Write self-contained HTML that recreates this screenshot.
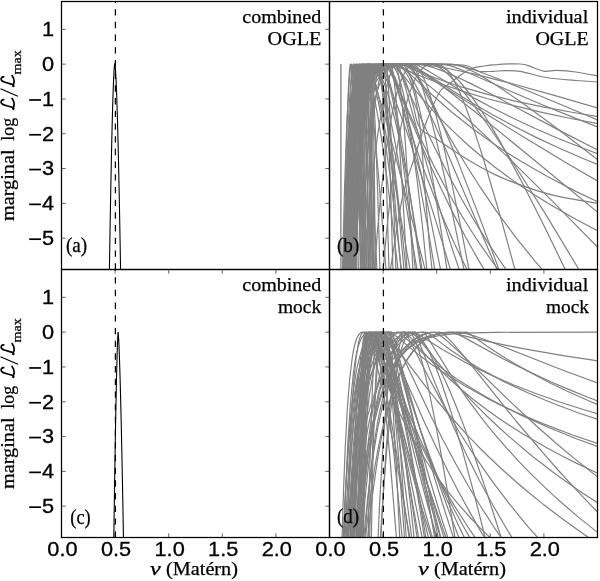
<!DOCTYPE html><html><head><meta charset="utf-8"><style>html,body{margin:0;padding:0;background:#fff;overflow:hidden}svg{display:block;will-change:transform}</style></head><body><svg width="600" height="581" viewBox="0 0 600 581">
<rect width="600" height="581" fill="#fff"/>
<defs>
<clipPath id="c00"><rect x="61.5" y="1.5" width="268.0" height="268.0"/></clipPath>
<clipPath id="c01"><rect x="329.5" y="1.5" width="268.0" height="268.0"/></clipPath>
<clipPath id="c10"><rect x="61.5" y="269.5" width="268.0" height="268.0"/></clipPath>
<clipPath id="c11"><rect x="329.5" y="269.5" width="268.0" height="268.0"/></clipPath>
</defs>
<g clip-path="url(#c01)" fill="none" stroke="#808080" stroke-width="1.2" stroke-linejoin="round">
<path d="M340.9,64.1 V271.5" stroke="#959595" stroke-width="1.6"/>
<path d="M342.3,282.0L344.3,195.5L346.7,126.5L349.1,81.9L350.4,69.3L351.4,64.2L351.7,64.4L352.2,67.2L353.1,77.4L354.9,119.5L356.8,190.5L358.8,290.3"/>
<path d="M346.3,285.0L349.4,191.3L351.1,153.2L352.8,125.3L354.9,98.8L356.8,81.5L358.8,69.7L359.9,66.1L361.1,64.3L361.4,64.8L361.8,72.8L362.6,108.6L364.7,286.6"/>
<path d="M344.3,280.4L346.3,223.9L348.2,180.8L350.6,141.5L353.1,113.4L355.8,92.0L357.4,82.9L359.2,75.8L361.1,70.4L363.0,66.8L365.1,64.8L367.4,64.2L367.8,66.3L368.3,77.3L369.3,126.9L371.3,307.8"/>
<path d="M347.3,287.6L349.6,184.3L350.9,145.3L352.2,114.5L353.6,91.5L355.2,75.9L356.8,67.0L357.8,64.7L358.5,64.2L358.8,64.5L359.6,78.2L360.7,134.8L362.6,307.8"/>
<path d="M344.0,285.0L345.7,224.7L347.3,179.7L349.1,142.7L351.1,113.3L353.4,91.1L354.5,82.7L356.1,74.5L357.4,69.8L358.8,66.6L360.7,64.5L361.8,64.2L362.2,64.5L363.0,79.6L363.9,123.4L365.6,307.8"/>
<path d="M343.0,280.6L345.9,194.6L347.5,157.8L349.4,125.8L351.4,98.9L353.4,80.5L355.5,67.8L356.4,64.7L356.8,64.2L357.1,64.2L357.8,65.8L358.1,67.8L358.8,75.6L360.3,109.9L361.8,176.0L363.5,281.2"/>
<path d="M343.5,285.6L345.3,228.8L347.3,180.8L349.6,141.6L351.9,113.5L354.5,92.0L356.1,82.9L357.8,75.6L359.2,71.2L361.1,67.2L363.0,64.9L365.1,64.2L365.6,65.3L366.0,74.6L366.9,117.6L368.8,290.9"/>
<path d="M345.9,281.9L348.7,183.9L350.1,148.5L351.7,119.3L353.6,93.1L355.5,77.3L357.4,67.7L358.5,65.2L359.6,64.2L359.9,64.5L360.3,68.2L360.7,77.1L361.4,114.4L363.0,282.1"/>
<path d="M343.3,281.2L345.3,223.6L347.5,175.7L350.1,137.0L352.8,109.6L355.8,89.2L357.4,81.4L359.6,74.1L361.4,69.7L363.9,66.2L366.0,64.7L367.4,64.3L368.8,64.3L369.3,70.3L369.8,86.0L370.3,111.6L372.3,307.8"/>
<path d="M342.6,284.4L345.7,193.7L347.3,158.1L349.1,127.3L351.1,101.8L353.4,82.0L355.5,70.0L356.8,65.8L357.8,64.2L358.1,64.8L358.5,70.6L359.6,119.7L361.4,298.5"/>
<path d="M345.1,282.8L347.3,230.8L349.6,189.0L352.2,152.5L355.2,121.6L358.5,96.7L361.8,79.7L363.9,72.7L365.6,68.4L367.4,65.5L368.3,64.6L369.3,64.2L369.8,64.8L370.3,71.6L371.3,116.3L372.8,287.3"/>
<path d="M344.9,285.3L346.5,227.2L348.0,184.3L349.9,144.1L351.9,112.9L354.2,90.0L355.5,81.6L356.8,74.9L358.1,70.0L359.6,66.7L361.1,64.8L361.8,64.4L363.0,64.1L363.5,67.4L363.9,78.4L364.7,121.7L366.5,288.5"/>
<path d="M347.1,281.0L349.1,185.4L351.1,121.8L353.4,80.0L354.5,68.3L355.2,65.1L355.5,64.3L355.8,64.2L356.4,68.9L357.1,82.2L358.1,121.0L359.2,184.2L360.7,307.8"/>
<path d="M346.7,287.9L348.7,194.7L350.6,128.7L352.8,82.1L353.9,68.1L354.5,64.5L354.9,64.2L355.5,65.0L356.1,67.5L357.4,78.2L358.8,97.6L359.9,118.3L362.6,189.0L365.6,293.0"/>
<path d="M345.9,282.8L348.2,231.7L350.6,190.5L353.4,154.4L356.4,123.6L359.9,98.6L363.5,81.3L365.6,74.0L367.4,69.5L369.8,65.6L370.8,64.7L371.8,64.2L372.3,65.2L372.8,76.1L373.3,98.5L374.4,176.6L375.5,298.0"/>
<path d="M345.5,283.3L347.1,227.4L348.9,180.5L350.9,142.2L353.1,112.1L355.5,89.9L356.8,81.5L358.1,75.0L359.6,70.1L361.1,66.7L362.6,64.8L363.5,64.4L364.7,64.2L365.1,67.6L365.6,78.2L366.5,124.6L368.3,307.8"/>
<path d="M343.8,283.1L345.9,194.5L348.2,126.0L349.4,102.2L350.6,83.4L351.9,70.3L352.8,65.6L353.4,64.2L353.6,64.8L353.9,68.7L354.2,76.3L355.2,122.7L356.8,283.1"/>
<path d="M344.7,281.1L346.7,226.8L348.7,184.5L351.1,144.8L353.6,115.8L356.4,93.2L358.1,83.4L359.6,77.0L361.4,70.8L363.0,67.2L365.1,64.7L366.5,64.2L366.9,64.4L367.4,68.4L367.8,79.9L368.8,135.1L370.3,307.8"/>
<path d="M342.2,280.8L344.5,235.3L347.3,193.6L350.4,158.5L353.6,129.7L357.4,104.7L359.6,93.8L361.8,84.2L364.3,75.9L366.5,70.2L368.8,66.0L369.8,64.8L370.8,64.2L371.3,67.7L372.3,107.3L373.3,189.4L374.4,307.8"/>
<path d="M343.6,282.3L345.3,191.3L346.9,127.1L348.7,81.8L349.6,68.1L350.4,64.2L351.1,65.5L351.7,67.8L352.8,76.5L354.2,95.3L355.5,117.4L358.5,190.7L361.4,285.0"/>
<path d="M345.9,287.5L347.5,195.0L349.4,124.8L351.4,79.3L352.5,67.2L353.1,64.4L353.4,64.2L354.2,68.1L355.5,80.3L358.1,124.2L361.1,190.8L364.7,290.0"/>
<path d="M348.0,288.8L349.6,188.7L351.4,120.1L352.5,94.0L353.6,76.6L354.9,67.1L355.5,64.9L356.1,64.2L356.4,64.2L356.8,64.8L357.1,65.9L358.5,76.0L359.6,89.1L361.1,114.0L363.9,177.9L367.4,281.9"/>
<path d="M348.4,280.0L350.9,179.1L353.4,115.4L354.9,91.0L356.1,77.1L357.8,66.8L358.5,64.9L358.8,64.4L359.6,64.2L360.3,65.3L361.1,68.3L362.2,77.1L363.9,98.4L365.1,122.5L367.8,194.0L370.8,299.5"/>
<path d="M346.3,282.4L347.8,228.0L349.4,182.0L351.1,144.2L353.1,114.2L355.2,91.7L357.4,76.3L358.5,71.7L359.9,67.4L361.4,65.0L363.0,64.2L363.5,64.3L363.9,65.5L365.1,74.9L366.5,91.5L367.8,114.6L370.8,179.0L374.4,282.3"/>
<path d="M344.7,285.8L347.8,191.3L349.6,150.9L351.4,121.4L353.4,97.7L355.5,79.9L356.8,72.5L357.8,68.4L359.2,65.0L360.3,64.1L361.4,65.0L362.2,66.6L363.5,71.2L364.3,75.8L366.5,93.2L368.3,113.7L370.8,148.2L372.8,183.4L377.8,288.4"/>
<path d="M342.6,284.9L344.7,228.7L346.9,184.7L349.6,144.7L352.5,115.3L355.8,92.7L357.8,83.2L359.6,76.8L361.4,71.8L363.9,67.4L366.5,64.9L367.8,64.3L369.3,64.1L369.8,64.4L370.3,65.5L370.8,67.4L372.3,79.2L373.9,100.9L375.0,121.4L377.8,195.1L380.9,302.7"/>
<path d="M346.9,282.3L348.7,228.1L350.4,186.9L352.5,147.0L354.5,118.3L356.8,95.6L359.2,78.9L360.7,72.1L361.8,68.4L363.5,65.2L364.7,64.2L365.1,64.2L365.6,64.8L366.5,67.4L368.3,76.7L370.8,94.6L373.3,118.3L379.0,181.1L386.8,280.0"/>
<path d="M346.3,284.7L348.7,229.8L351.4,183.1L354.5,144.5L358.1,113.9L360.3,100.4L362.2,90.9L364.3,82.9L366.9,75.2L369.3,70.5L372.3,66.6L375.0,64.8L376.7,64.3L378.4,64.2L379.0,65.0L379.6,66.9L380.2,70.2L381.5,81.1L382.8,98.4L384.1,122.6L386.8,193.2L389.7,295.4"/>
<path d="M343.8,283.1L346.7,231.9L350.1,186.6L353.9,150.1L358.1,121.3L360.7,108.0L363.0,97.8L366.0,87.4L368.8,79.9L372.3,72.8L375.5,68.2L377.2,66.5L379.0,65.2L380.9,64.4L382.1,64.2L382.8,64.4L383.4,65.9L384.7,73.4L386.1,88.1L387.5,110.4L390.4,180.4L393.4,286.4"/>
<path d="M362.2,287.6L364.7,235.1L367.4,189.2L370.3,150.1L372.8,122.9L376.1,96.7L379.0,80.6L380.9,73.4L382.8,68.2L384.7,65.0L386.1,64.2L386.8,66.0L388.2,82.3L390.4,122.6L393.4,196.4L396.6,288.1"/>
<path d="M349.4,285.9L351.7,186.8L353.1,145.4L354.5,113.1L356.1,89.5L357.8,74.1L358.5,70.1L359.6,66.1L360.3,64.7L361.4,64.2L363.5,64.9L365.1,66.9L367.4,71.3L369.3,76.6L373.3,92.4L377.8,115.8L382.8,147.3L387.5,181.9L393.4,229.8L400.0,287.1"/>
<path d="M354.2,286.4L356.4,240.5L358.8,198.5L361.4,160.8L364.3,127.8L366.9,103.7L369.8,84.0L371.3,76.1L372.8,69.7L374.4,65.4L375.0,64.5L375.5,64.2L376.7,65.2L377.8,67.8L379.0,71.7L380.9,79.8L383.4,95.0L386.8,120.4L390.4,152.6L394.2,191.6L402.6,288.9"/>
<path d="M344.3,282.0L346.9,225.0L349.6,180.1L352.8,142.6L356.1,114.7L358.1,102.1L360.3,91.3L362.6,82.4L364.7,76.3L367.4,70.6L369.8,67.2L372.3,65.1L373.9,64.4L375.5,64.2L376.7,64.6L378.4,67.5L379.6,70.8L381.5,77.9L384.7,94.9L388.2,118.3L391.9,148.0L395.8,183.9L400.0,225.9L405.3,284.1"/>
<path d="M350.1,280.9L353.6,237.5L357.8,197.2L362.2,163.0L367.4,132.0L372.8,107.0L376.1,94.9L379.0,85.8L382.1,77.8L385.4,71.0L388.2,66.7L389.7,65.1L391.1,64.2L391.9,66.0L392.7,69.8L394.2,81.4L395.8,97.3L398.3,127.5L402.6,192.3L408.1,290.4"/>
<path d="M345.7,283.2L347.8,234.3L350.1,190.7L352.8,152.7L355.5,123.4L358.5,99.3L361.8,80.7L363.5,74.3L365.1,69.4L366.9,65.9L367.8,64.7L368.8,64.2L369.8,64.9L370.8,66.8L373.3,74.4L376.7,87.6L380.9,107.4L389.7,154.5L412.0,280.9"/>
<path d="M362.6,284.9L366.0,241.0L369.8,200.3L373.9,163.1L377.8,133.8L382.8,104.5L387.5,83.4L389.7,76.0L391.9,69.8L394.2,65.3L395.0,64.4L395.8,64.4L396.6,65.9L397.4,68.7L400.0,83.9L401.7,99.2L404.4,129.6L409.1,199.0L414.1,290.6"/>
<path d="M343.0,280.2L345.3,228.1L348.0,182.9L351.1,144.7L354.5,115.7L356.4,103.6L358.5,93.0L360.7,84.0L363.0,76.6L365.6,70.9L367.8,67.4L369.3,65.9L370.8,64.8L373.3,64.2L375.0,65.3L376.7,68.0L378.4,72.0L380.2,77.2L384.7,93.6L389.7,115.4L395.0,142.4L401.7,179.2L419.4,283.9"/>
<path d="M359.9,285.8L362.2,236.5L364.7,192.7L367.4,154.5L370.3,122.2L373.3,96.2L376.1,79.8L377.8,72.5L379.0,68.7L380.9,65.0L382.1,64.2L383.4,65.1L385.4,68.6L388.9,78.8L392.7,93.8L397.4,117.4L402.6,146.8L408.1,181.4L422.7,281.8"/>
<path d="M348.7,283.3L351.9,188.2L353.6,152.5L355.5,122.3L357.4,97.7L359.6,79.3L360.7,72.6L361.8,67.7L363.0,64.7L363.9,64.2L365.6,65.1L367.4,67.3L369.3,70.6L371.3,74.8L376.1,87.7L381.5,104.9L392.7,145.3L428.6,282.9"/>
<path d="M348.4,287.0L349.9,226.1L351.7,170.9L353.4,135.2L355.5,105.1L357.8,85.2L358.8,79.3L360.3,73.3L361.8,69.1L363.5,66.5L365.6,64.8L367.8,64.2L371.3,64.2L372.8,64.7L375.0,67.0L376.7,70.1L379.0,76.6L380.9,83.4L384.7,102.0L389.7,132.4L395.0,172.0L400.8,221.1L407.2,279.9"/>
<path d="M346.1,282.8L347.3,224.5L348.9,171.3L350.6,131.8L352.8,100.6L354.9,83.1L356.1,76.3L357.4,71.4L358.8,68.1L360.7,65.7L362.6,64.5L365.6,64.2L369.8,64.3L372.8,65.4L376.1,68.2L379.0,72.2L382.1,78.2L385.4,86.5L388.9,97.2L391.9,107.7L395.8,123.4L399.1,138.1L407.2,178.9L415.1,225.0L423.9,281.6"/>
<path d="M343.6,285.7L346.1,217.7L348.9,165.4L350.4,146.0L352.2,126.7L354.2,110.7L356.4,97.7L358.8,87.5L361.4,79.5L364.3,73.7L367.4,69.5L370.8,66.8L375.0,65.1L379.6,64.3L387.5,64.2L390.4,64.5L392.7,65.8L395.0,68.5L397.4,73.3L400.0,80.3L402.6,89.8L407.2,111.8L412.0,141.9L417.2,180.7L422.7,228.7L428.6,286.7"/>
<path d="M349.4,287.3L350.6,228.8L352.2,174.4L353.9,134.6L356.1,102.8L358.5,83.1L359.6,77.4L361.1,72.0L362.6,68.4L364.7,65.8L366.9,64.6L369.8,64.2L373.9,64.2L376.1,64.9L378.4,66.7L380.9,69.6L384.1,74.9L387.5,81.7L395.8,101.6L407.2,132.9L420.5,172.7L436.1,221.9L454.3,282.1"/>
<path d="M351.9,284.9L353.6,221.0L355.5,171.2L357.8,128.3L360.3,99.0L361.4,90.0L363.0,80.6L364.7,73.9L366.5,69.4L368.3,66.5L370.3,65.0L372.8,64.3L376.7,64.2L379.0,64.6L381.5,66.2L384.1,70.0L386.1,74.5L388.2,80.7L390.4,88.8L395.0,110.7L400.0,140.9L405.3,180.0L411.0,228.5L417.2,287.4"/>
<path d="M347.8,282.7L350.1,175.4L351.4,138.3L353.1,105.8L354.5,87.4L356.4,73.6L357.4,69.5L358.8,66.1L360.3,64.6L361.8,64.2L364.3,64.4L366.5,65.9L368.8,69.1L370.8,73.3L372.8,79.1L375.0,86.7L379.6,108.1L384.7,138.3L390.4,178.1L396.6,228.0L402.6,280.5"/>
<path d="M350.6,287.2L352.5,221.5L354.5,170.7L356.8,132.7L359.6,102.3L361.1,91.4L362.6,82.9L364.3,76.4L366.0,71.7L367.8,68.4L370.3,65.9L372.8,64.7L376.7,64.2L381.5,64.3L384.1,65.1L386.8,67.3L389.7,71.3L392.7,77.2L395.8,85.1L399.1,95.0L402.6,107.0L410.1,137.3L418.3,176.5L427.4,225.4L437.4,285.0"/>
<path d="M345.1,282.3L347.1,218.6L349.6,165.0L352.5,126.0L353.9,112.4L355.8,99.1L357.4,90.1L359.6,81.6L361.8,75.3L364.3,70.8L366.9,67.7L370.3,65.6L374.4,64.5L380.2,64.2L384.1,64.2L386.8,65.1L389.7,67.7L391.9,70.9L394.2,75.4L397.4,83.1L400.8,92.9L404.4,104.8L412.0,134.1L421.6,176.0L431.0,221.2L442.8,281.2"/>
<path d="M349.9,281.6L352.8,218.5L354.5,190.0L356.4,165.2L358.5,144.0L360.7,125.9L363.0,110.9L365.6,98.5L368.3,88.6L371.3,80.8L374.4,74.8L376.1,72.5L378.4,70.0L380.2,68.4L382.8,66.9L387.5,65.1L393.4,64.3L401.7,64.2L403.5,64.8L404.4,65.6L406.2,67.8L408.1,71.0L410.1,75.4L412.0,80.8L415.1,91.0L420.5,113.3L426.2,141.8L433.5,183.5L441.4,232.7L449.9,288.8"/>
<path d="M354.2,287.0L356.4,225.7L359.2,171.8L362.2,132.3L363.9,117.2L366.0,101.9L367.8,92.2L370.3,82.8L372.3,77.1L375.0,71.9L377.8,68.4L381.5,66.0L385.4,64.7L391.1,64.2L397.4,64.1L398.3,64.8L400.0,69.3L405.3,87.1L423.9,154.4L436.1,196.8L449.9,241.6L463.8,283.6"/>
<path d="M343.5,281.6L345.1,241.7L346.7,210.7L348.4,183.6L350.4,160.1L352.5,139.9L354.9,122.9L357.4,108.6L360.7,95.6L363.9,86.5L367.4,79.4L369.3,76.5L371.8,73.4L373.9,71.3L376.7,69.2L382.1,66.6L388.2,65.1L396.6,64.3L409.1,64.2L411.0,64.7L412.0,65.4L414.1,67.7L416.2,71.2L418.3,75.8L422.7,88.2L428.6,108.7L436.1,139.1L444.1,174.9L454.3,222.6L467.1,284.8"/>
<path d="M352.5,286.1L354.5,226.7L357.1,173.6L359.9,134.1L361.4,118.6L363.5,102.9L365.1,92.9L367.4,83.1L369.3,77.2L371.8,71.7L374.4,68.1L377.2,66.0L380.9,64.6L385.4,64.2L388.9,64.1L389.7,64.9L405.3,115.3L414.1,142.1L425.0,172.8L436.1,201.3L445.6,223.8L454.3,243.3L463.8,263.1L474.0,283.0"/>
<path d="M347.3,285.9L350.1,206.2L351.7,175.8L353.4,150.7L355.2,130.2L357.4,111.2L359.6,98.6L362.2,87.4L364.7,80.2L367.8,74.2L371.3,70.1L373.3,68.4L375.5,67.1L380.2,65.4L386.1,64.6L394.2,64.2L411.0,64.1L414.1,64.8L417.2,67.2L420.5,71.7L422.7,75.8L425.0,80.9L428.6,90.3L434.8,110.7L442.8,142.2L451.3,180.8L460.6,226.0L472.2,286.6"/>
<path d="M348.2,282.4L350.1,212.3L352.2,160.8L354.5,124.3L355.8,110.6L357.4,97.0L358.8,88.5L360.7,80.3L362.6,74.5L365.1,69.7L367.8,66.9L370.8,65.3L374.4,64.5L380.2,64.2L386.8,64.3L389.7,69.0L395.8,82.8L413.1,125.1L422.7,148.0L432.3,169.6L441.4,189.3L452.8,212.6L465.4,236.7L477.5,258.4L490.7,280.6"/>
<path d="M351.4,283.5L353.9,222.2L357.1,169.2L358.8,148.0L360.7,129.9L362.6,114.6L365.1,99.8L367.4,90.0L370.3,80.8L372.8,75.2L376.1,70.3L379.6,67.2L383.4,65.3L388.2,64.4L395.8,64.1L398.3,64.4L400.8,65.6L403.5,67.7L407.2,71.7L410.1,75.7L414.1,82.2L422.7,98.6L433.5,121.7L447.0,152.2L502.9,283.4"/>
<path d="M345.1,283.7L347.5,217.1L350.4,165.8L351.9,145.2L353.6,127.6L355.5,112.8L357.4,100.5L359.6,90.5L361.8,82.6L364.3,76.5L367.4,71.2L370.8,67.8L374.4,65.7L379.0,64.5L384.7,64.2L388.2,64.2L389.7,66.9L409.1,112.8L420.5,138.3L433.5,165.1L448.4,193.0L462.2,216.5L475.7,237.8L490.7,259.5L507.2,281.5"/>
<path d="M353.6,284.9L355.8,221.3L358.5,166.7L361.4,127.9L363.0,113.2L365.1,98.7L366.9,89.7L369.3,81.0L371.3,75.9L373.9,71.2L376.7,68.1L380.2,65.9L384.7,64.7L390.4,64.2L400.0,64.1L402.6,64.4L406.2,65.8L410.1,68.4L415.1,73.6L419.4,79.3L423.9,86.5L429.8,97.3L436.1,110.1L442.8,124.9L457.4,160.1L477.5,211.9L502.9,280.1"/>
<path d="M346.1,280.7L348.4,210.8L351.1,159.2L352.8,137.5L354.5,119.7L356.4,105.3L358.5,93.8L360.7,84.9L363.0,78.2L366.0,72.5L369.3,68.8L372.8,66.4L377.2,65.0L382.8,64.3L391.1,64.2L395.0,64.1L395.8,64.7L398.3,68.9L404.4,81.7L423.9,124.9L434.8,147.8L448.4,174.7L462.2,200.0L474.0,220.2L486.8,240.9L500.8,262.0L513.8,280.4"/>
<path d="M350.9,282.5L352.5,243.7L354.2,210.5L356.1,182.1L358.1,158.1L360.3,138.1L363.0,119.0L365.6,105.8L368.8,93.7L372.3,84.4L376.1,77.6L380.2,72.7L382.8,70.5L385.4,68.9L391.1,66.5L398.3,65.1L407.2,64.4L421.6,64.2L437.4,64.2L440.0,64.8L442.8,66.2L447.0,70.0L449.9,73.8L454.3,81.3L459.0,90.7L463.8,102.1L470.5,119.8L477.5,140.4L484.9,163.7L500.8,217.8L518.3,282.0"/>
<path d="M348.9,282.8L351.4,213.4L352.8,185.7L354.5,158.0L356.1,138.8L358.1,119.9L360.3,104.9L362.6,93.2L365.1,84.2L367.8,77.6L371.3,72.1L375.0,68.5L379.0,66.3L384.1,65.0L390.4,64.3L401.7,64.2L409.1,64.1L410.1,64.7L411.0,66.1L417.2,76.8L437.4,114.9L451.3,140.1L465.4,164.0L481.2,188.7L498.7,214.3L516.0,237.6L535.1,261.3L553.4,282.5"/>
<path d="M344.5,285.1L347.1,214.1L348.4,188.0L350.1,162.2L351.9,140.8L353.9,123.1L356.1,108.8L358.8,95.9L361.4,87.2L364.7,79.6L368.3,74.2L372.3,70.3L377.2,67.5L382.8,65.8L390.4,64.7L400.8,64.2L429.8,64.2L432.3,64.4L434.8,65.1L438.7,66.9L444.1,70.8L449.9,76.1L457.4,84.4L467.1,96.4L479.3,112.9L492.7,132.0L509.4,157.0L527.7,185.7L545.4,213.9L585.5,280.4"/>
<path d="M354.2,283.1L356.1,233.1L358.5,186.2L361.1,149.7L363.9,122.1L365.6,109.6L367.4,99.3L369.3,90.8L371.3,84.0L373.3,78.5L376.1,73.4L378.4,70.4L381.5,67.7L385.4,65.8L390.4,64.6L396.6,64.2L410.1,64.2L418.3,64.5L427.4,65.2L437.4,66.6L448.4,68.5L475.7,74.4L511.6,83.5L556.1,95.8L608.2,111.0"/>
<path d="M346.3,282.2L348.0,228.2L349.9,185.1L352.2,147.5L354.9,119.6L357.8,99.4L359.6,90.9L361.4,84.1L363.5,78.7L366.0,73.8L368.8,70.2L371.8,67.8L376.1,65.8L381.5,64.7L388.9,64.2L403.5,64.2L422.7,73.0L441.4,80.3L462.2,87.2L486.8,94.2L513.8,100.8L542.8,106.9L573.3,112.5L608.2,118.2"/>
<path d="M352.2,284.7L354.5,232.6L357.4,185.9L360.7,149.9L364.3,122.7L366.0,113.1L368.3,102.8L370.8,94.2L373.3,87.2L376.1,81.6L379.6,76.3L382.8,72.9L386.8,69.8L391.1,67.7L396.6,66.0L402.6,65.1L410.1,64.5L422.7,64.2L448.4,64.2L454.3,64.7L462.2,66.3L468.8,68.1L477.5,71.0L498.7,79.0L532.6,92.8L608.2,124.5"/>
<path d="M348.4,282.7L350.1,229.4L352.2,180.8L354.5,143.6L357.1,115.8L359.9,96.0L361.4,88.5L363.5,81.0L365.1,76.4L367.4,72.0L369.8,68.9L372.8,66.4L376.1,65.1L379.6,64.4L385.4,64.2L391.1,64.3L397.4,66.6L426.2,78.3L442.8,84.5L463.8,91.6L486.8,98.5L513.8,105.7L542.8,112.6L573.3,119.0L608.2,125.6"/>
<path d="M345.3,282.9L347.8,228.9L350.6,185.3L353.9,150.7L355.8,136.4L357.8,124.0L359.9,113.1L362.2,103.8L364.7,95.8L367.8,88.1L370.8,82.6L374.4,77.5L378.4,73.5L382.8,70.4L387.5,68.2L392.7,66.6L398.3,65.5L405.3,64.7L418.3,64.2L441.4,64.1L445.6,64.6L449.9,65.6L455.9,67.6L463.8,70.8L509.4,90.8L542.8,105.0L573.3,117.4L608.2,131.2"/>
<path d="M351.4,286.3L353.6,228.6L356.1,183.0L358.8,147.7L360.3,133.3L362.2,118.0L363.9,107.8L366.0,97.1L367.8,90.1L370.3,83.0L372.8,77.5L375.5,73.2L379.0,69.6L382.8,67.2L387.5,65.5L394.2,64.5L414.1,64.1L416.2,64.6L420.5,66.6L426.2,69.8L457.4,88.4L475.7,98.9L492.7,108.0L511.6,117.5L535.1,128.5L558.9,138.7L582.4,148.0L608.2,157.6"/>
<path d="M343.5,281.3L345.9,225.4L348.7,181.0L351.9,146.4L353.6,133.3L355.8,120.0L358.1,108.8L360.7,99.3L363.5,91.4L366.5,84.9L369.8,79.6L373.3,75.4L377.8,71.7L382.8,69.0L389.7,66.7L398.3,65.3L409.1,64.5L425.0,64.2L452.8,64.3L459.0,65.4L467.1,68.5L477.5,73.8L488.7,80.5L502.9,89.6L520.6,101.8L540.2,115.9L561.7,131.9L608.2,167.9"/>
<path d="M347.3,282.5L349.6,227.0L352.2,182.3L355.2,147.1L356.8,132.6L358.8,117.7L360.7,107.2L363.0,96.6L365.1,89.3L367.8,82.2L370.8,76.7L373.9,72.4L377.2,69.3L381.5,66.9L387.5,65.1L395.0,64.3L408.1,64.1L412.0,65.5L417.2,68.3L423.9,72.2L455.9,92.7L474.0,103.9L492.7,114.7L511.6,125.0L535.1,136.9L558.9,148.0L582.4,158.3L608.2,168.8"/>
<path d="M350.4,287.5L352.5,227.8L354.9,180.5L357.4,144.0L360.7,113.7L362.2,103.3L364.3,92.7L366.0,85.8L368.3,79.0L370.8,73.9L373.3,70.2L376.1,67.6L379.6,65.7L383.4,64.7L387.5,64.3L396.6,64.1L400.0,64.5L403.5,65.2L408.1,66.8L418.3,71.6L434.8,81.3L488.7,115.5L527.7,139.5L567.4,163.4L608.2,187.2"/>
<path d="M355.5,290.1L357.1,234.6L359.2,182.6L361.4,143.8L364.3,111.8L365.6,101.6L367.4,90.7L368.8,84.3L370.8,77.7L372.8,72.9L375.0,69.5L377.8,66.8L380.9,65.3L384.1,64.6L388.2,64.2L398.3,64.2L399.1,64.6L405.3,69.6L432.3,95.0L451.3,111.7L472.2,128.3L494.7,144.4L507.2,152.7L520.6,161.1L535.1,169.6L548.0,176.8L576.3,191.6L608.2,206.6"/>
<path d="M349.1,285.2L351.1,227.1L353.6,176.3L356.4,138.3L359.6,110.9L361.4,99.4L363.5,90.1L365.6,82.8L367.8,77.2L370.3,72.9L373.3,69.2L376.7,66.9L380.9,65.3L385.4,64.5L391.1,64.2L401.7,64.2L406.2,64.7L411.0,66.1L416.2,68.5L421.6,71.5L428.6,76.1L448.4,90.7L477.5,113.8L525.3,152.7L608.2,220.8"/>
<path d="M353.1,284.6L355.5,224.2L358.1,176.2L361.1,139.1L364.3,111.3L366.0,100.6L368.3,89.6L370.3,82.6L372.8,75.9L375.5,71.1L378.4,67.8L381.5,65.8L385.4,64.6L393.4,64.1L394.2,64.7L399.1,70.2L414.1,88.8L423.9,100.4L433.5,111.2L444.1,122.4L455.9,133.9L468.8,145.7L481.2,156.2L494.7,167.0L507.2,176.3L520.6,185.7L535.1,195.2L548.0,203.2L561.7,211.3L576.3,219.5L591.8,227.7L608.2,235.9"/>
<path d="M344.7,284.1L346.5,220.6L348.7,167.5L351.1,129.3L353.9,102.9L355.5,93.3L357.4,84.2L359.6,77.5L361.8,72.6L364.3,69.2L367.4,66.7L370.8,65.3L375.5,64.4L382.1,64.2L392.7,64.3L396.6,65.0L400.8,66.5L407.2,69.8L415.1,75.0L423.9,81.6L434.8,90.4L449.9,103.3L467.1,118.8L486.8,137.1L509.4,158.6L556.1,204.9L608.2,258.1"/>
<path d="M390.0,272.0C392.1,259.5 398.5,215.8 402.5,197.0C406.5,178.2 410.6,170.0 414.0,159.0C417.4,148.0 420.0,139.5 423.0,131.0C426.0,122.5 429.0,114.8 432.0,108.0C435.0,101.2 437.5,94.5 441.0,90.0C444.5,85.5 449.2,83.9 453.0,81.0C456.8,78.1 460.6,74.9 464.0,72.7C467.4,70.5 470.0,69.1 473.3,68.0C476.6,66.9 480.1,66.6 484.0,66.0C487.9,65.4 492.8,64.9 497.0,64.6C501.2,64.2 505.2,64.0 509.0,63.9C512.8,63.8 516.8,63.7 520.0,64.0C523.2,64.3 524.5,64.4 528.4,65.6C532.3,66.8 538.9,70.3 543.6,71.1C548.3,71.9 551.4,70.2 556.8,70.4C562.2,70.6 568.9,71.1 575.8,72.0C582.7,72.9 594.3,75.3 598.0,76.0"/>
<path d="M350.0,272.0C350.8,251.7 352.5,180.3 355.0,150.0C357.5,119.7 360.8,103.7 365.0,90.0C369.2,76.3 374.2,72.2 380.0,68.0C385.8,63.8 390.0,65.6 400.0,65.0C410.0,64.4 429.0,64.4 440.0,64.5C451.0,64.6 459.6,64.4 466.0,65.5C472.4,66.6 474.1,70.3 478.7,71.3C483.2,72.3 489.1,71.4 493.3,71.3C497.5,71.2 499.6,70.7 504.0,70.7C508.4,70.7 513.0,70.2 520.0,71.3C527.0,72.4 536.7,76.0 546.0,77.5C555.3,79.0 567.3,79.8 576.0,80.5C584.7,81.2 594.3,81.8 598.0,82.0"/>
<path d="M400.0,64.5C401.7,67.1 407.4,74.1 410.0,80.0C412.6,85.9 414.0,91.7 415.7,100.0C417.4,108.3 418.8,115.0 420.3,130.0C421.9,145.0 423.6,171.7 425.0,190.0C426.4,208.3 427.8,226.3 429.0,240.0C430.2,253.7 431.8,266.7 432.3,272.0"/>
<path d="M380.0,64.5C382.5,65.1 390.8,65.4 395.0,68.0C399.2,70.6 402.0,73.8 405.0,80.0C408.0,86.2 410.5,97.0 413.0,105.0C415.5,113.0 415.8,122.2 420.0,128.0C424.2,133.8 430.5,135.0 438.0,140.0C445.5,145.0 455.5,152.2 465.0,158.0C474.5,163.8 485.0,169.8 495.0,174.6C505.0,179.4 515.0,183.1 525.0,186.6C535.0,190.1 542.8,192.8 555.0,195.6C567.2,198.4 590.8,202.2 598.0,203.5"/>
<path d="M382.1,281.5L386.8,229.0L391.9,183.8L395.0,161.2L397.4,145.8L400.8,127.4L403.5,115.1L407.2,100.7L410.1,91.5L414.1,81.3L417.2,75.3L420.5,70.5L423.9,67.0L427.4,64.9L429.8,64.3L432.3,64.2L437.4,65.1L442.8,67.4L448.4,71.1L455.9,77.7L462.2,84.5L468.8,92.7L475.7,102.3L484.9,116.2L492.7,128.9L500.8,142.9L520.6,179.6L542.8,223.2L573.3,286.1"/>
<path d="M373.3,286.8L377.2,233.9L380.9,194.2L385.4,154.6L389.7,126.3L392.7,110.4L395.0,100.1L397.4,91.0L400.0,83.2L402.6,76.8L405.3,71.7L408.1,67.9L411.0,65.4L413.1,64.5L416.2,64.2L421.6,64.7L427.4,65.9L433.5,67.7L441.4,70.4L457.4,77.2L470.5,83.4L484.9,90.8L561.7,131.6L608.2,155.4"/>
</g>
<g clip-path="url(#c11)" fill="none" stroke="#808080" stroke-width="1.2" stroke-linejoin="round">
<path d="M341.7,549.9L343.5,490.9L345.3,446.0L347.3,409.0L349.6,379.8L352.2,358.0L353.6,349.8L355.2,343.2L356.8,338.3L358.5,334.9L360.3,332.9L361.4,332.3L362.6,332.1L364.3,332.7L366.0,334.5L367.8,337.5L370.3,343.1L375.0,358.0L380.2,379.2L386.1,406.8L392.7,440.6L400.8,485.6L412.0,549.9"/>
<path d="M357.8,549.6L360.3,490.9L362.6,448.5L365.1,413.2L368.3,380.8L371.3,360.0L372.8,351.9L375.0,343.5L376.7,338.8L379.0,334.6L380.9,332.9L382.1,332.3L383.4,332.1L384.7,332.8L386.1,335.1L387.5,339.2L388.9,345.2L391.9,363.4L394.2,382.4L397.4,415.4L400.8,457.1L407.2,551.9"/>
<path d="M346.9,549.5L348.4,494.3L350.1,447.8L351.9,409.8L353.9,379.9L356.1,357.8L358.5,342.9L359.6,338.6L361.1,334.7L362.6,332.6L364.3,332.2L366.5,332.8L368.8,334.5L371.3,337.3L374.4,342.0L377.2,347.1L380.9,354.6L388.2,372.1L395.0,390.0L403.5,413.8L449.9,549.2"/>
<path d="M361.4,556.2L363.9,458.7L366.5,389.1L367.8,364.6L369.3,347.0L370.8,336.2L371.3,334.1L372.3,332.2L372.8,332.3L373.3,332.8L374.4,335.0L375.5,338.6L377.2,346.4L379.6,360.9L382.8,385.6L386.1,417.0L389.7,454.9L397.4,549.7"/>
<path d="M370.8,564.5L372.8,464.4L373.9,426.3L375.5,382.8L376.7,362.2L378.4,342.3L379.6,335.3L380.2,333.5L380.9,332.5L381.5,332.2L383.4,332.6L386.1,334.9L388.9,339.0L391.9,344.9L394.2,350.5L397.4,359.6L404.4,383.1L412.0,413.6L420.5,451.0L429.8,495.5L441.4,553.7"/>
<path d="M359.9,571.0L361.8,458.1L363.9,382.8L364.7,362.7L366.0,342.5L366.9,335.2L367.4,333.2L367.8,332.3L368.3,332.2L370.3,332.7L372.8,334.7L375.5,338.1L378.4,342.7L381.5,348.6L384.7,355.8L392.7,376.1L400.0,397.1L409.1,425.1L448.4,551.5"/>
<path d="M357.8,571.6L359.2,467.6L361.1,383.6L361.8,362.6L363.0,342.5L363.9,335.5L364.3,333.6L365.1,332.2L366.5,332.3L367.4,332.7L369.3,334.5L371.8,338.7L373.9,343.6L376.7,352.0L379.0,360.5L384.1,382.6L389.7,411.7L395.8,448.1L402.6,491.9L411.0,550.5"/>
<path d="M362.6,552.7L364.3,465.3L366.5,388.2L367.4,366.9L368.8,344.9L369.8,336.4L370.3,333.9L370.8,332.5L371.3,332.1L372.8,332.8L375.0,335.3L377.2,339.5L379.6,345.5L384.1,360.0L389.7,382.6L395.8,411.6L402.6,446.8L411.0,493.8L420.5,548.4"/>
<path d="M349.9,554.5L351.9,497.2L354.2,449.6L356.8,411.3L359.9,378.3L363.0,357.4L364.7,349.5L366.9,342.1L368.8,337.8L371.3,334.3L373.9,332.6L376.7,332.1L377.8,332.3L379.0,333.0L381.5,335.6L384.1,340.2L386.1,344.9L391.1,360.0L397.4,384.5L403.5,412.4L411.0,451.6L419.4,498.7L428.6,553.7"/>
<path d="M344.5,551.0L347.1,494.6L350.1,446.8L353.4,410.3L355.2,394.7L357.1,381.0L359.2,369.0L361.4,358.7L363.9,350.2L366.0,344.4L368.8,338.9L371.8,335.1L375.0,332.9L378.4,332.2L379.6,332.8L381.5,336.1L384.7,345.7L388.9,363.0L393.4,385.7L398.3,413.5L404.4,451.8L419.4,553.5"/>
<path d="M354.2,558.7L355.8,507.3L357.8,455.2L359.6,419.5L361.8,385.6L364.3,360.7L365.6,351.4L366.9,344.1L368.3,338.7L369.8,335.1L371.3,333.0L372.8,332.2L374.4,332.3L375.5,332.7L377.8,334.4L380.2,337.1L383.4,342.2L386.1,347.5L389.7,355.7L393.4,365.7L397.4,377.4L405.3,402.9L415.1,437.9L427.4,484.5L444.1,550.6"/>
<path d="M358.8,550.9L360.3,458.0L362.2,380.7L363.0,360.8L364.3,341.5L365.1,334.9L365.6,333.1L366.0,332.3L366.5,332.2L368.3,333.1L370.3,335.3L372.3,338.7L374.4,343.0L379.6,356.0L385.4,373.3L397.4,413.8L436.1,550.9"/>
<path d="M343.0,549.8L345.5,490.4L348.2,444.6L351.7,404.9L353.6,388.6L355.5,376.5L357.4,366.0L359.9,355.8L362.2,348.6L365.1,342.0L367.8,337.9L371.3,334.6L375.0,332.7L379.6,332.1L380.9,332.5L382.8,334.8L384.7,339.2L386.8,345.6L390.4,360.8L395.0,386.3L399.1,413.6L404.4,453.5L410.1,501.1L416.2,556.5"/>
<path d="M347.5,550.3L350.1,495.5L353.1,449.0L356.4,410.5L358.5,392.8L360.3,379.9L362.6,366.5L364.7,357.1L366.9,349.3L369.3,342.9L371.8,338.1L374.4,334.7L377.2,332.8L379.0,332.3L380.9,332.2L383.4,332.9L386.1,335.1L388.9,339.0L391.9,344.6L395.0,352.2L398.3,361.7L404.4,383.3L412.0,416.0L419.4,452.1L427.4,495.3L437.4,553.7"/>
<path d="M356.1,553.7L357.8,503.2L359.9,451.8L361.8,416.5L364.3,382.8L366.5,361.7L367.8,352.0L369.3,344.3L370.8,338.6L372.3,334.8L373.9,332.7L375.5,332.1L377.2,332.7L379.6,334.8L382.1,338.5L384.7,343.6L387.5,350.1L390.4,357.9L397.4,380.2L404.4,405.5L413.1,439.9L423.9,485.2L438.7,549.4"/>
<path d="M362.6,561.1L365.6,451.7L368.3,386.1L369.8,363.0L371.3,346.4L372.8,336.1L373.3,334.1L374.4,332.2L375.5,332.2L376.7,332.6L379.0,334.6L381.5,338.1L384.1,343.3L386.8,350.3L389.7,359.2L395.8,382.4L402.6,413.5L410.1,452.5L418.3,499.6L427.4,555.1"/>
<path d="M367.8,555.1L369.8,467.5L372.3,389.7L373.3,368.1L375.0,345.6L376.1,336.8L376.7,334.2L377.2,332.6L377.8,332.2L379.0,333.1L380.2,335.4L381.5,338.8L383.4,345.6L386.8,361.0L391.1,385.6L395.8,416.3L400.8,452.6L413.1,549.0"/>
<path d="M353.4,553.8L356.4,456.0L358.1,418.6L360.3,383.3L362.2,361.5L364.7,343.8L366.0,338.2L367.4,334.5L368.8,332.6L370.3,332.2L371.3,332.4L372.3,333.0L373.9,335.1L376.1,340.1L377.8,345.7L381.5,362.0L385.4,385.7L389.7,417.3L394.2,457.1L399.1,505.6L403.5,552.8"/>
<path d="M361.1,556.4L362.6,458.1L364.7,379.0L365.6,359.3L366.9,340.8L367.8,334.6L368.3,333.1L368.8,332.3L369.3,332.1L370.3,332.4L371.3,333.1L373.3,335.5L375.5,339.1L377.8,344.0L382.8,357.3L388.9,377.4L395.8,402.8L403.5,433.2L431.0,548.4"/>
<path d="M368.8,564.3L370.3,513.3L372.3,455.9L373.9,420.5L376.1,383.1L377.8,362.3L380.2,343.4L382.1,335.5L383.4,332.9L384.7,332.1L385.4,333.0L386.1,335.2L388.2,348.7L389.7,362.9L391.9,391.1L395.8,455.7L400.8,560.3"/>
<path d="M351.4,554.4L353.9,499.5L356.8,452.9L359.9,414.4L363.5,383.7L365.1,372.5L367.4,360.5L369.3,352.5L371.8,344.5L373.9,339.7L376.7,335.3L379.0,333.3L380.2,332.6L382.1,332.2L383.4,332.4L384.1,333.5L385.4,337.8L386.8,344.4L388.9,358.1L391.9,383.0L395.0,414.9L398.3,453.3L405.3,548.5"/>
<path d="M359.6,551.7L361.1,454.3L363.0,376.7L363.9,357.6L365.1,339.9L366.0,334.3L366.5,332.9L366.9,332.3L367.4,332.2L368.8,332.5L369.8,333.0L371.8,335.0L374.4,339.1L376.7,343.7L379.0,349.5L382.1,358.5L388.2,379.6L395.0,407.2L403.5,445.3L413.1,491.6L425.0,551.9"/>
<path d="M377.2,557.4L379.6,503.9L382.8,448.8L385.4,413.5L388.9,379.5L391.9,359.8L393.4,352.3L395.8,343.5L397.4,339.2L400.0,334.9L402.6,332.7L405.3,332.2L408.1,332.3L410.1,332.7L414.1,334.5L417.2,336.7L419.4,338.5L423.9,343.4L429.8,351.5L434.8,359.8L440.0,369.7L445.6,381.2L451.3,394.4L457.4,409.3L463.8,425.9L472.2,449.2L486.8,492.4L505.0,549.8"/>
<path d="M379.6,550.5L383.4,491.2L386.8,449.0L390.4,413.4L394.2,384.2L398.3,361.6L400.8,351.1L402.6,345.4L404.4,340.7L407.2,335.6L409.1,333.5L410.1,332.8L412.0,332.2L413.1,332.2L415.1,332.9L418.3,335.3L421.6,339.1L425.0,344.3L428.6,350.9L432.3,358.8L436.1,368.0L441.4,382.3L451.3,412.7L462.2,449.8L474.0,493.5L488.7,551.4"/>
<path d="M380.2,550.2L382.8,501.4L386.1,449.7L388.9,415.7L392.7,381.9L395.8,361.6L397.4,353.6L400.0,344.1L401.7,339.5L404.4,334.7L406.2,333.0L407.2,332.5L409.1,332.1L410.1,332.5L411.0,333.4L413.1,336.2L415.1,340.4L417.2,345.9L419.4,352.4L422.7,364.3L428.6,389.0L434.8,419.6L441.4,455.6L448.4,496.8L457.4,552.8"/>
<path d="M352.5,557.7L354.2,502.6L356.4,450.0L358.8,408.8L361.4,378.0L364.3,356.3L365.6,349.5L367.4,342.5L368.8,338.6L370.8,335.1L372.8,333.1L375.5,332.2L376.7,332.1L377.2,333.1L379.0,339.4L398.3,420.5L411.0,469.9L422.7,510.7L434.8,549.2"/>
<path d="M358.1,553.6L360.3,493.8L362.6,445.4L365.1,407.3L367.8,378.4L370.8,357.8L372.3,350.1L374.4,342.5L376.1,338.3L378.4,334.7L380.9,332.9L383.4,332.2L384.7,332.1L385.4,333.2L386.8,337.9L406.2,421.3L416.2,461.8L427.4,504.3L440.0,548.4"/>
<path d="M345.5,551.9L348.4,492.2L351.7,446.1L353.6,424.8L355.8,406.0L358.1,389.6L360.3,377.3L362.6,366.7L365.6,356.2L368.3,348.9L371.8,342.3L375.0,338.0L376.7,336.3L379.0,334.6L383.4,332.7L388.2,332.2L388.9,332.1L389.7,334.6L405.3,405.9L412.0,434.4L418.3,459.4L431.0,506.1L444.1,549.4"/>
<path d="M349.6,550.9L352.5,492.7L355.8,444.6L359.6,406.0L361.4,391.5L363.5,378.8L365.6,367.8L368.3,356.8L370.8,349.3L373.9,342.4L376.7,338.1L380.2,334.6L382.1,333.5L384.1,332.7L388.2,332.2L388.9,332.1L389.7,333.3L393.4,345.5L415.1,427.6L428.6,475.5L440.0,513.4L451.3,548.2"/>
<path d="M342.6,550.5L345.5,491.4L348.9,442.4L350.9,421.7L352.8,405.5L355.2,389.2L357.4,376.7L360.3,364.6L363.0,355.7L366.0,348.4L369.8,341.8L373.3,337.6L375.5,335.8L377.8,334.4L380.2,333.3L382.8,332.6L388.2,332.1L388.9,332.5L389.7,333.5L391.9,338.1L395.0,346.2L399.1,358.5L406.2,381.8L434.8,478.6L445.6,513.4L457.4,550.0"/>
<path d="M346.5,551.0L348.9,491.6L351.7,443.3L354.9,405.2L356.8,388.5L358.8,374.3L360.7,364.4L363.0,354.5L365.6,346.8L368.3,341.0L371.3,336.9L374.4,334.2L378.4,332.6L383.4,332.2L384.1,332.2L384.7,332.7L387.5,337.1L391.1,345.1L395.0,355.1L401.7,374.1L423.9,440.3L436.1,475.7L449.9,513.9L463.8,550.4"/>
<path d="M353.9,548.1L356.8,486.0L359.9,436.6L363.5,398.8L365.1,385.3L367.4,371.0L369.3,361.6L371.8,352.1L374.4,344.8L377.2,339.5L380.2,335.8L383.4,333.6L386.8,332.5L391.9,332.2L392.7,332.7L401.7,367.8L411.0,400.4L419.4,426.8L427.4,450.0L437.4,476.5L447.0,499.9L459.0,526.6L470.5,550.1"/>
<path d="M353.4,557.2L354.9,504.1L356.8,451.6L358.8,410.3L361.1,379.2L363.5,357.2L364.7,349.2L366.0,343.0L367.4,338.5L369.3,334.6L371.3,332.7L373.3,332.2L373.9,332.2L374.4,332.6L376.1,334.9L381.5,345.8L412.0,420.4L422.7,444.9L433.5,468.3L444.1,490.0L454.3,509.7L465.4,530.0L477.5,550.9"/>
<path d="M343.8,550.2L345.9,486.8L348.0,440.2L350.4,403.4L353.4,373.0L354.9,362.5L356.4,353.8L358.1,346.8L360.3,340.5L362.2,336.8L364.7,334.0L367.4,332.5L370.8,332.1L371.3,332.4L372.8,334.8L376.7,342.9L395.8,389.6L407.2,415.8L417.2,437.4L427.4,457.7L440.0,481.2L454.3,505.6L468.8,528.3L483.0,549.0"/>
<path d="M358.1,549.3L360.3,490.6L362.6,442.5L365.1,404.4L367.8,375.5L370.8,354.9L372.3,347.5L373.9,341.7L375.5,337.5L377.2,334.6L378.4,333.4L379.6,332.6L382.1,332.1L383.4,333.1L386.1,337.1L391.9,348.5L425.0,423.4L436.1,447.1L447.0,469.3L457.4,489.5L468.8,510.4L481.2,532.1L492.7,551.1"/>
<path d="M351.1,557.1L352.8,496.9L354.5,447.5L356.4,408.2L358.5,378.3L360.7,356.8L363.0,342.8L364.3,338.2L366.0,334.4L367.4,332.8L369.3,332.2L369.8,332.2L376.1,352.9L382.1,370.6L387.5,384.9L393.4,399.2L400.0,413.7L406.2,426.4L414.1,440.9L421.6,453.7L429.8,466.5L438.7,479.3L448.4,492.1L457.4,503.2L468.8,516.0L479.3,527.1L490.7,538.2L502.9,549.2"/>
<path d="M355.8,550.4L358.1,494.9L361.1,443.4L364.3,403.6L366.0,387.7L367.8,374.2L369.8,363.0L371.8,353.9L373.9,346.7L376.1,341.2L378.4,337.2L381.5,334.1L384.7,332.6L388.9,332.2L389.7,332.2L391.1,333.9L396.6,343.5L431.0,416.2L442.8,439.5L455.9,464.0L468.8,486.7L481.2,507.2L494.7,528.2L509.4,549.7"/>
<path d="M359.2,551.2L363.9,494.9L368.8,450.6L371.8,429.4L374.4,413.4L377.8,396.0L380.9,383.1L384.7,369.6L388.2,359.9L391.9,351.7L395.8,344.9L398.3,341.5L400.8,338.6L405.3,335.0L410.1,332.9L415.1,332.1L418.3,339.7L433.5,379.1L442.8,401.8L454.3,428.5L465.4,452.4L479.3,480.2L492.7,504.8L507.2,529.8L520.6,551.3"/>
<path d="M348.2,550.6L351.4,489.4L353.4,461.5L355.2,440.3L357.1,421.5L359.6,402.3L362.2,385.9L365.1,372.2L367.8,362.5L371.3,353.1L375.0,345.9L379.0,340.5L383.4,336.6L386.1,335.1L388.9,333.9L395.0,332.6L402.6,332.2L404.4,332.1L405.3,332.5L407.2,335.5L431.0,381.9L444.1,406.1L459.0,431.5L475.7,457.7L492.7,481.9L509.4,503.9L527.7,526.3L548.0,549.0"/>
<path d="M350.9,550.7L353.4,493.0L356.1,445.2L359.2,406.8L362.6,377.3L364.3,366.8L366.5,355.9L368.3,348.9L370.8,342.0L372.8,337.9L375.5,334.5L378.4,332.7L381.5,332.2L382.8,332.5L384.7,333.9L391.1,340.9L425.0,385.6L436.1,399.5L447.0,412.5L467.1,434.9L477.5,445.7L488.7,456.8L500.8,468.2L513.8,479.8L527.7,491.7L542.8,503.9L558.9,516.2L573.3,526.7L588.6,537.4L604.8,548.2"/>
<path d="M363.9,552.1L368.8,508.4L374.4,469.5L377.8,450.2L380.9,435.3L384.1,421.3L387.5,408.3L391.1,396.3L395.0,385.3L399.1,375.3L403.5,366.3L408.1,358.3L413.1,351.4L418.3,345.5L422.7,341.5L428.6,337.5L434.8,334.6L441.4,332.8L448.4,332.1L488.7,341.7L523.0,348.7L564.6,355.9L608.2,362.4"/>
<path d="M355.2,549.3L357.4,524.7L359.9,501.8L362.6,480.4L365.1,463.4L368.3,444.9L371.3,430.3L374.4,416.8L377.8,404.4L381.5,393.1L385.4,382.8L389.7,373.6L394.2,365.3L399.1,358.1L404.4,351.8L410.1,346.5L416.2,342.1L420.5,339.6L426.2,337.1L431.0,335.5L437.4,333.9L444.1,332.9L452.8,332.3L459.0,332.1L463.8,332.9L474.0,335.8L486.8,340.3L561.7,369.8L608.2,386.9"/>
<path d="M366.5,548.8L371.8,499.9L377.2,461.3L380.2,444.0L383.4,428.1L386.8,413.4L390.4,400.1L394.2,388.1L398.3,377.3L402.6,367.7L407.2,359.4L411.0,353.6L416.2,347.4L421.6,342.3L427.4,338.3L433.5,335.4L440.0,333.4L448.4,332.3L452.8,332.2L454.3,332.5L462.2,336.4L502.9,358.7L532.6,373.4L550.7,381.7L570.4,390.1L588.6,397.5L608.2,404.9"/>
<path d="M348.9,549.6L353.1,504.0L355.5,483.4L358.1,464.3L361.1,446.6L364.3,430.3L367.8,415.4L371.3,403.4L375.5,391.0L379.6,381.2L384.1,372.4L388.9,364.6L394.2,357.6L400.0,351.6L406.2,346.5L413.1,342.2L418.3,339.7L423.9,337.5L429.8,335.8L436.1,334.4L442.8,333.4L449.9,332.7L467.1,332.1L486.8,346.0L500.8,355.2L516.0,364.5L532.6,373.8L550.7,383.2L567.4,391.3L588.6,400.8L608.2,409.0"/>
<path d="M361.1,549.0L365.1,497.9L369.3,457.9L373.9,423.6L376.7,406.9L379.0,394.8L382.1,381.3L384.7,371.7L388.2,361.1L391.1,353.9L395.0,346.4L398.3,341.5L401.7,337.7L406.2,334.4L408.1,333.5L411.0,332.5L415.1,332.2L442.8,349.7L463.8,361.6L475.7,367.8L488.7,374.0L513.8,385.0L535.1,393.3L558.9,401.8L582.4,409.3L608.2,417.0"/>
<path d="M346.3,550.0L349.9,498.8L353.9,457.7L356.4,438.5L358.8,423.1L361.4,409.0L364.3,396.3L367.8,383.3L371.3,373.3L375.0,364.4L379.0,356.8L383.4,350.3L388.2,344.9L393.4,340.5L399.1,337.2L405.3,334.7L412.0,333.2L419.4,332.4L427.4,332.3L445.6,346.4L463.8,358.9L483.0,370.4L505.0,382.1L527.7,392.8L553.4,403.5L579.3,413.2L608.2,422.9"/>
<path d="M356.1,552.3L359.2,501.2L362.2,461.0L366.0,421.9L369.8,392.8L373.9,369.0L376.1,359.2L378.4,350.8L380.9,343.8L383.4,338.4L386.1,334.6L387.5,333.3L388.9,332.5L390.4,332.2L392.7,333.5L420.5,356.1L431.0,363.9L442.8,372.1L463.8,385.3L486.8,398.1L500.8,405.1L513.8,411.2L542.8,423.6L573.3,435.2L608.2,447.0"/>
<path d="M347.3,551.1L350.9,499.0L354.9,456.4L357.1,437.3L359.6,419.7L362.2,403.6L364.7,391.0L367.8,377.8L370.8,367.7L373.9,358.8L377.2,351.1L380.9,344.7L384.7,339.5L388.9,335.6L393.4,333.1L397.4,332.2L398.3,332.2L399.1,332.6L425.0,355.0L434.8,362.8L445.6,370.9L457.4,379.2L468.8,386.6L481.2,394.1L494.7,401.7L507.2,408.3L520.6,414.9L548.0,427.3L576.3,438.7L608.2,450.2"/>
<path d="M351.4,549.4L354.9,496.8L358.8,452.1L361.1,432.6L363.5,415.0L366.0,399.3L368.8,385.4L371.8,373.2L374.4,364.4L377.8,355.3L381.5,347.8L384.7,342.8L388.9,338.2L393.4,334.9L398.3,333.0L403.5,332.2L405.3,332.2L406.2,332.7L420.5,349.1L429.8,359.3L440.0,369.9L449.9,379.3L462.2,390.2L474.0,400.0L486.8,409.8L498.7,418.3L511.6,426.8L523.0,434.0L548.0,448.5L561.7,455.8L576.3,463.1L591.8,470.5L608.2,477.9"/>
<path d="M356.4,548.3L359.2,520.5L361.8,497.5L364.7,476.0L367.8,455.8L371.3,437.1L375.0,419.7L379.0,403.9L382.8,391.4L387.5,378.3L391.9,368.3L396.6,359.4L401.7,351.7L407.2,345.1L413.1,339.8L419.4,335.9L422.7,334.4L426.2,333.2L431.0,332.3L433.5,332.2L434.8,332.3L438.7,334.4L445.6,339.6L460.6,353.2L509.4,400.9L537.6,427.0L556.1,443.2L573.3,457.6L591.8,472.4L608.2,485.1"/>
<path d="M358.8,552.3L362.6,498.8L366.9,453.3L369.3,433.6L371.8,415.7L374.4,399.7L377.2,385.6L380.2,373.2L383.4,362.6L386.8,353.7L390.4,346.5L394.2,340.8L398.3,336.7L402.6,334.0L407.2,332.5L410.1,332.2L412.0,332.3L414.1,334.2L420.5,341.4L447.0,373.4L465.4,394.1L475.7,404.9L486.8,416.0L498.7,427.3L509.4,436.9L532.6,456.5L556.1,474.5L582.4,492.9L608.2,509.5"/>
<path d="M362.6,551.3L365.1,523.2L367.8,497.1L370.8,473.1L373.9,451.2L377.2,431.2L380.9,413.2L384.7,397.2L388.9,383.1L393.4,370.8L397.4,362.0L402.6,353.0L408.1,345.8L413.1,341.0L416.2,338.6L419.4,336.7L422.7,335.1L426.2,333.9L433.5,332.5L440.0,332.2L441.4,332.8L444.1,334.7L447.0,337.2L452.8,343.2L467.1,359.9L516.0,421.0L542.8,452.7L558.9,471.0L576.3,489.9L591.8,506.1L608.2,522.8"/>
<path d="M353.4,551.7L355.8,522.4L358.1,498.4L361.1,473.0L363.9,452.4L367.4,430.9L370.8,413.7L374.4,398.2L378.4,384.2L382.8,371.9L387.5,361.2L392.7,352.2L397.4,345.7L400.8,342.1L403.5,339.8L409.1,336.0L413.1,334.2L416.2,333.2L422.7,332.2L423.9,332.2L425.0,333.2L448.4,371.1L459.0,387.0L468.8,400.9L477.5,412.7L486.8,424.6L496.7,436.6L507.2,448.6L518.3,460.8L530.2,473.1L542.8,485.4L553.4,495.4L567.4,507.8L579.3,517.9L595.0,530.4L608.2,540.5"/>
<path d="M363.9,552.6L366.9,510.5L370.8,470.5L375.0,438.1L377.2,424.3L379.6,412.0L382.1,401.1L384.7,391.4L387.5,382.8L391.1,373.5L394.2,367.1L398.3,360.2L402.6,354.5L407.2,349.7L411.0,346.5L415.1,343.8L419.4,341.5L425.0,339.2L431.0,337.3L437.4,335.9L444.1,334.8L452.8,333.8L470.5,332.8L496.7,332.3L595.0,332.1L608.2,332.4"/>
</g>
<g clip-path="url(#c00)" fill="none" stroke="#000" stroke-width="1.1"><path d="M109.42,269.50 L109.60,258.00 L109.78,246.77 L109.95,235.82 L110.13,225.16 L110.31,214.77 L110.49,204.67 L110.67,194.86 L110.85,185.35 L111.03,176.14 L111.21,167.22 L111.38,158.61 L111.56,150.32 L111.74,142.34 L111.92,134.68 L112.10,127.35 L112.28,120.36 L112.46,113.71 L112.63,107.40 L112.81,101.45 L112.99,95.87 L113.17,90.67 L113.35,85.86 L113.53,81.45 L113.71,77.46 L113.89,73.91 L114.06,70.83 L114.24,68.25 L114.42,66.21 L114.60,64.78 L114.78,64.15 L114.97,64.78 L115.16,66.21 L115.36,68.25 L115.55,70.83 L115.74,73.91 L115.94,77.46 L116.13,81.45 L116.32,85.86 L116.52,90.67 L116.71,95.87 L116.90,101.45 L117.09,107.40 L117.29,113.71 L117.48,120.36 L117.67,127.35 L117.87,134.68 L118.06,142.34 L118.25,150.32 L118.44,158.61 L118.64,167.22 L118.83,176.14 L119.02,185.35 L119.22,194.86 L119.41,204.67 L119.60,214.77 L119.80,225.16 L119.99,235.82 L120.18,246.77 L120.37,258.00 L120.57,269.50"/></g>
<g clip-path="url(#c10)" fill="none" stroke="#000" stroke-width="1.1"><path d="M113.81,537.50 L113.96,527.32 L114.10,517.31 L114.24,507.48 L114.39,497.83 L114.53,488.36 L114.67,479.09 L114.81,470.00 L114.96,461.11 L115.10,452.42 L115.24,443.93 L115.39,435.65 L115.53,427.59 L115.67,419.75 L115.81,412.13 L115.96,404.75 L116.10,397.61 L116.24,390.73 L116.39,384.10 L116.53,377.74 L116.67,371.67 L116.82,365.89 L116.96,360.43 L117.10,355.29 L117.24,350.52 L117.39,346.12 L117.53,342.15 L117.67,338.64 L117.82,335.68 L117.96,333.40 L118.10,332.15 L118.28,333.40 L118.46,335.68 L118.64,338.64 L118.82,342.15 L118.99,346.12 L119.17,350.52 L119.35,355.29 L119.53,360.43 L119.71,365.89 L119.89,371.67 L120.07,377.74 L120.25,384.10 L120.42,390.73 L120.60,397.61 L120.78,404.75 L120.96,412.13 L121.14,419.75 L121.32,427.59 L121.50,435.65 L121.67,443.93 L121.85,452.42 L122.03,461.11 L122.21,470.00 L122.39,479.09 L122.57,488.36 L122.75,497.83 L122.93,507.48 L123.10,517.31 L123.28,527.32 L123.46,537.50"/></g>
<line x1="115.40" y1="269.5" x2="115.40" y2="1.5" stroke="#000" stroke-width="1.25" stroke-dasharray="6.35 6.35"/>
<line x1="383.40" y1="269.5" x2="383.40" y2="1.5" stroke="#000" stroke-width="1.25" stroke-dasharray="6.35 6.35"/>
<line x1="115.40" y1="537.5" x2="115.40" y2="269.5" stroke="#000" stroke-width="1.25" stroke-dasharray="6.35 6.35"/>
<line x1="383.40" y1="537.5" x2="383.40" y2="269.5" stroke="#000" stroke-width="1.25" stroke-dasharray="6.35 6.35"/>
<rect x="61.5" y="1.5" width="268.0" height="268.0" fill="none" stroke="#000" stroke-width="1.25"/>
<rect x="329.5" y="1.5" width="268.0" height="268.0" fill="none" stroke="#000" stroke-width="1.25"/>
<rect x="61.5" y="269.5" width="268.0" height="268.0" fill="none" stroke="#000" stroke-width="1.25"/>
<rect x="329.5" y="269.5" width="268.0" height="268.0" fill="none" stroke="#000" stroke-width="1.25"/>
<path d="M61.5,238.18 h4.2 M329.5,238.18 h-4.2 M61.5,203.37 h4.2 M329.5,203.37 h-4.2 M61.5,168.56 h4.2 M329.5,168.56 h-4.2 M61.5,133.76 h4.2 M329.5,133.76 h-4.2 M61.5,98.95 h4.2 M329.5,98.95 h-4.2 M61.5,64.15 h4.2 M329.5,64.15 h-4.2 M61.5,29.34 h4.2 M329.5,29.34 h-4.2 M61.5,506.18 h4.2 M329.5,506.18 h-4.2 M61.5,471.37 h4.2 M329.5,471.37 h-4.2 M61.5,436.56 h4.2 M329.5,436.56 h-4.2 M61.5,401.76 h4.2 M329.5,401.76 h-4.2 M61.5,366.95 h4.2 M329.5,366.95 h-4.2 M61.5,332.15 h4.2 M329.5,332.15 h-4.2 M61.5,297.34 h4.2 M329.5,297.34 h-4.2 M61.50,269.5 v4.2 M61.50,537.5 v-4.2 M115.10,269.5 v4.2 M115.10,537.5 v-4.2 M168.70,269.5 v4.2 M168.70,537.5 v-4.2 M222.30,269.5 v4.2 M222.30,537.5 v-4.2 M275.90,269.5 v4.2 M275.90,537.5 v-4.2 M329.50,269.5 v4.2 M329.50,537.5 v-4.2 M383.10,269.5 v4.2 M383.10,537.5 v-4.2 M436.70,269.5 v4.2 M436.70,537.5 v-4.2 M490.30,269.5 v4.2 M490.30,537.5 v-4.2 M543.90,269.5 v4.2 M543.90,537.5 v-4.2" stroke="#000" stroke-width="0.6" fill="none"/>
<text transform="translate(54.00,245.03) scale(1.098,1)" font-family="Liberation Sans, sans-serif" font-size="19.8" text-anchor="end" fill="#000" stroke="#000" stroke-width="0.3">5</text>
<rect x="29.2" y="238.33" width="11.8" height="1.7" fill="#000"/>
<text transform="translate(54.00,210.22) scale(1.098,1)" font-family="Liberation Sans, sans-serif" font-size="19.8" text-anchor="end" fill="#000" stroke="#000" stroke-width="0.3">4</text>
<rect x="29.2" y="203.52" width="11.8" height="1.7" fill="#000"/>
<text transform="translate(54.00,175.41) scale(1.098,1)" font-family="Liberation Sans, sans-serif" font-size="19.8" text-anchor="end" fill="#000" stroke="#000" stroke-width="0.3">3</text>
<rect x="29.2" y="168.71" width="11.8" height="1.7" fill="#000"/>
<text transform="translate(54.00,140.61) scale(1.098,1)" font-family="Liberation Sans, sans-serif" font-size="19.8" text-anchor="end" fill="#000" stroke="#000" stroke-width="0.3">2</text>
<rect x="29.2" y="133.91" width="11.8" height="1.7" fill="#000"/>
<text transform="translate(54.00,105.80) scale(1.098,1)" font-family="Liberation Sans, sans-serif" font-size="19.8" text-anchor="end" fill="#000" stroke="#000" stroke-width="0.3">1</text>
<rect x="29.2" y="99.10" width="11.8" height="1.7" fill="#000"/>
<text transform="translate(54.00,71.00) scale(1.098,1)" font-family="Liberation Sans, sans-serif" font-size="19.8" text-anchor="end" fill="#000" stroke="#000" stroke-width="0.3">0</text>
<text transform="translate(54.00,36.19) scale(1.098,1)" font-family="Liberation Sans, sans-serif" font-size="19.8" text-anchor="end" fill="#000" stroke="#000" stroke-width="0.3">1</text>
<text transform="translate(54.00,513.03) scale(1.098,1)" font-family="Liberation Sans, sans-serif" font-size="19.8" text-anchor="end" fill="#000" stroke="#000" stroke-width="0.3">5</text>
<rect x="29.2" y="506.33" width="11.8" height="1.7" fill="#000"/>
<text transform="translate(54.00,478.22) scale(1.098,1)" font-family="Liberation Sans, sans-serif" font-size="19.8" text-anchor="end" fill="#000" stroke="#000" stroke-width="0.3">4</text>
<rect x="29.2" y="471.52" width="11.8" height="1.7" fill="#000"/>
<text transform="translate(54.00,443.41) scale(1.098,1)" font-family="Liberation Sans, sans-serif" font-size="19.8" text-anchor="end" fill="#000" stroke="#000" stroke-width="0.3">3</text>
<rect x="29.2" y="436.71" width="11.8" height="1.7" fill="#000"/>
<text transform="translate(54.00,408.61) scale(1.098,1)" font-family="Liberation Sans, sans-serif" font-size="19.8" text-anchor="end" fill="#000" stroke="#000" stroke-width="0.3">2</text>
<rect x="29.2" y="401.91" width="11.8" height="1.7" fill="#000"/>
<text transform="translate(54.00,373.80) scale(1.098,1)" font-family="Liberation Sans, sans-serif" font-size="19.8" text-anchor="end" fill="#000" stroke="#000" stroke-width="0.3">1</text>
<rect x="29.2" y="367.10" width="11.8" height="1.7" fill="#000"/>
<text transform="translate(54.00,339.00) scale(1.098,1)" font-family="Liberation Sans, sans-serif" font-size="19.8" text-anchor="end" fill="#000" stroke="#000" stroke-width="0.3">0</text>
<text transform="translate(54.00,304.19) scale(1.098,1)" font-family="Liberation Sans, sans-serif" font-size="19.8" text-anchor="end" fill="#000" stroke="#000" stroke-width="0.3">1</text>
<text transform="translate(62.40,556.00) scale(1.098,1)" font-family="Liberation Sans, sans-serif" font-size="19.8" text-anchor="middle" fill="#000" stroke="#000" stroke-width="0.3">0.0</text>
<text transform="translate(116.00,556.00) scale(1.098,1)" font-family="Liberation Sans, sans-serif" font-size="19.8" text-anchor="middle" fill="#000" stroke="#000" stroke-width="0.3">0.5</text>
<text transform="translate(169.60,556.00) scale(1.098,1)" font-family="Liberation Sans, sans-serif" font-size="19.8" text-anchor="middle" fill="#000" stroke="#000" stroke-width="0.3">1.0</text>
<text transform="translate(223.20,556.00) scale(1.098,1)" font-family="Liberation Sans, sans-serif" font-size="19.8" text-anchor="middle" fill="#000" stroke="#000" stroke-width="0.3">1.5</text>
<text transform="translate(276.80,556.00) scale(1.098,1)" font-family="Liberation Sans, sans-serif" font-size="19.8" text-anchor="middle" fill="#000" stroke="#000" stroke-width="0.3">2.0</text>
<text transform="translate(330.40,556.00) scale(1.098,1)" font-family="Liberation Sans, sans-serif" font-size="19.8" text-anchor="middle" fill="#000" stroke="#000" stroke-width="0.3">0.0</text>
<text transform="translate(384.00,556.00) scale(1.098,1)" font-family="Liberation Sans, sans-serif" font-size="19.8" text-anchor="middle" fill="#000" stroke="#000" stroke-width="0.3">0.5</text>
<text transform="translate(437.60,556.00) scale(1.098,1)" font-family="Liberation Sans, sans-serif" font-size="19.8" text-anchor="middle" fill="#000" stroke="#000" stroke-width="0.3">1.0</text>
<text transform="translate(491.20,556.00) scale(1.098,1)" font-family="Liberation Sans, sans-serif" font-size="19.8" text-anchor="middle" fill="#000" stroke="#000" stroke-width="0.3">1.5</text>
<text transform="translate(544.80,556.00) scale(1.098,1)" font-family="Liberation Sans, sans-serif" font-size="19.8" text-anchor="middle" fill="#000" stroke="#000" stroke-width="0.3">2.0</text>
<text x="242.30" y="22.50" font-family="Liberation Serif, serif" font-size="19.4" textLength="78.90" lengthAdjust="spacingAndGlyphs" fill="#000" stroke="#000" stroke-width="0.25">combined</text>
<text x="267.60" y="45.30" font-family="Liberation Serif, serif" font-size="19.4" textLength="53.80" lengthAdjust="spacingAndGlyphs" fill="#000" stroke="#000" stroke-width="0.25">OGLE</text>
<text x="505.90" y="22.50" font-family="Liberation Serif, serif" font-size="19.4" textLength="82.40" lengthAdjust="spacingAndGlyphs" fill="#000" stroke="#000" stroke-width="0.25">individual</text>
<text x="535.40" y="45.30" font-family="Liberation Serif, serif" font-size="19.4" textLength="53.40" lengthAdjust="spacingAndGlyphs" fill="#000" stroke="#000" stroke-width="0.25">OGLE</text>
<text x="242.30" y="290.50" font-family="Liberation Serif, serif" font-size="19.4" textLength="78.90" lengthAdjust="spacingAndGlyphs" fill="#000" stroke="#000" stroke-width="0.25">combined</text>
<text x="278.00" y="313.00" font-family="Liberation Serif, serif" font-size="19.4" textLength="43.20" lengthAdjust="spacingAndGlyphs" fill="#000" stroke="#000" stroke-width="0.25">mock</text>
<text x="505.90" y="290.50" font-family="Liberation Serif, serif" font-size="19.4" textLength="82.40" lengthAdjust="spacingAndGlyphs" fill="#000" stroke="#000" stroke-width="0.25">individual</text>
<text x="546.00" y="313.00" font-family="Liberation Serif, serif" font-size="19.4" textLength="43.00" lengthAdjust="spacingAndGlyphs" fill="#000" stroke="#000" stroke-width="0.25">mock</text>
<text x="65.90" y="251.80" font-family="Liberation Serif, serif" font-size="21.0" textLength="21.30" lengthAdjust="spacingAndGlyphs" fill="#000" stroke="#000" stroke-width="0.25">(a)</text>
<text x="337.00" y="252.30" font-family="Liberation Serif, serif" font-size="21.0" textLength="22.30" lengthAdjust="spacingAndGlyphs" fill="#000" stroke="#000" stroke-width="0.25">(b)</text>
<text x="70.30" y="523.60" font-family="Liberation Serif, serif" font-size="21.0" textLength="20.40" lengthAdjust="spacingAndGlyphs" fill="#000" stroke="#000" stroke-width="0.25">(c)</text>
<text x="337.00" y="523.20" font-family="Liberation Serif, serif" font-size="21.0" textLength="22.00" lengthAdjust="spacingAndGlyphs" fill="#000" stroke="#000" stroke-width="0.25">(d)</text>
<text x="150.00" y="575.00" font-family="Liberation Serif, serif" font-size="18.6" textLength="10.80" lengthAdjust="spacingAndGlyphs" font-style="italic" fill="#000" stroke="#000" stroke-width="0.25">ν</text>
<text x="166.00" y="575.00" font-family="Liberation Serif, serif" font-size="18.6" textLength="72.00" lengthAdjust="spacingAndGlyphs" fill="#000" stroke="#000" stroke-width="0.25">(Matérn)</text>
<text x="418.00" y="575.00" font-family="Liberation Serif, serif" font-size="18.6" textLength="10.80" lengthAdjust="spacingAndGlyphs" font-style="italic" fill="#000" stroke="#000" stroke-width="0.25">ν</text>
<text x="434.00" y="575.00" font-family="Liberation Serif, serif" font-size="18.6" textLength="72.00" lengthAdjust="spacingAndGlyphs" fill="#000" stroke="#000" stroke-width="0.25">(Matérn)</text>
<g transform="translate(14.3,221.0) rotate(-90)" fill="#000">
<text x="0.00" y="0.00" font-family="Liberation Serif, serif" font-size="19.0" textLength="71.60" lengthAdjust="spacingAndGlyphs" fill="#000" stroke="#000" stroke-width="0.25">marginal</text>
<text x="80.30" y="0.00" font-family="Liberation Serif, serif" font-size="19.0" textLength="22.90" lengthAdjust="spacingAndGlyphs" fill="#000" stroke="#000" stroke-width="0.25">log</text>
<path transform="translate(111.3,0)" d="M10.0,-10.6 C10.2,-12.6 8.2,-13.6 6.6,-12.9 C5.2,-12.3 4.9,-10.8 4.5,-9.2 L2.4,-2.2 C2.0,-0.9 1.0,-0.2 0.5,-0.8 C0.1,-1.4 1.0,-1.6 2.2,-1.0 C4.5,0.2 8.0,0.0 11.2,-2.2" fill="none" stroke="#000" stroke-width="1.7" stroke-linecap="round"/>
<path transform="translate(134.2,0)" d="M10.0,-10.6 C10.2,-12.6 8.2,-13.6 6.6,-12.9 C5.2,-12.3 4.9,-10.8 4.5,-9.2 L2.4,-2.2 C2.0,-0.9 1.0,-0.2 0.5,-0.8 C0.1,-1.4 1.0,-1.6 2.2,-1.0 C4.5,0.2 8.0,0.0 11.2,-2.2" fill="none" stroke="#000" stroke-width="1.7" stroke-linecap="round"/>
<path d="M124.8,3.6 L132.2,-13.8" stroke="#000" stroke-width="1.2" fill="none"/>
<text x="146.50" y="6.50" font-family="Liberation Serif, serif" font-size="13.5" textLength="24.30" lengthAdjust="spacingAndGlyphs" fill="#000" stroke="#000" stroke-width="0.25">max</text>
</g>
<g transform="translate(14.3,489.0) rotate(-90)" fill="#000">
<text x="0.00" y="0.00" font-family="Liberation Serif, serif" font-size="19.0" textLength="71.60" lengthAdjust="spacingAndGlyphs" fill="#000" stroke="#000" stroke-width="0.25">marginal</text>
<text x="80.30" y="0.00" font-family="Liberation Serif, serif" font-size="19.0" textLength="22.90" lengthAdjust="spacingAndGlyphs" fill="#000" stroke="#000" stroke-width="0.25">log</text>
<path transform="translate(111.3,0)" d="M10.0,-10.6 C10.2,-12.6 8.2,-13.6 6.6,-12.9 C5.2,-12.3 4.9,-10.8 4.5,-9.2 L2.4,-2.2 C2.0,-0.9 1.0,-0.2 0.5,-0.8 C0.1,-1.4 1.0,-1.6 2.2,-1.0 C4.5,0.2 8.0,0.0 11.2,-2.2" fill="none" stroke="#000" stroke-width="1.7" stroke-linecap="round"/>
<path transform="translate(134.2,0)" d="M10.0,-10.6 C10.2,-12.6 8.2,-13.6 6.6,-12.9 C5.2,-12.3 4.9,-10.8 4.5,-9.2 L2.4,-2.2 C2.0,-0.9 1.0,-0.2 0.5,-0.8 C0.1,-1.4 1.0,-1.6 2.2,-1.0 C4.5,0.2 8.0,0.0 11.2,-2.2" fill="none" stroke="#000" stroke-width="1.7" stroke-linecap="round"/>
<path d="M124.8,3.6 L132.2,-13.8" stroke="#000" stroke-width="1.2" fill="none"/>
<text x="146.50" y="6.50" font-family="Liberation Serif, serif" font-size="13.5" textLength="24.30" lengthAdjust="spacingAndGlyphs" fill="#000" stroke="#000" stroke-width="0.25">max</text>
</g>
</svg></body></html>
